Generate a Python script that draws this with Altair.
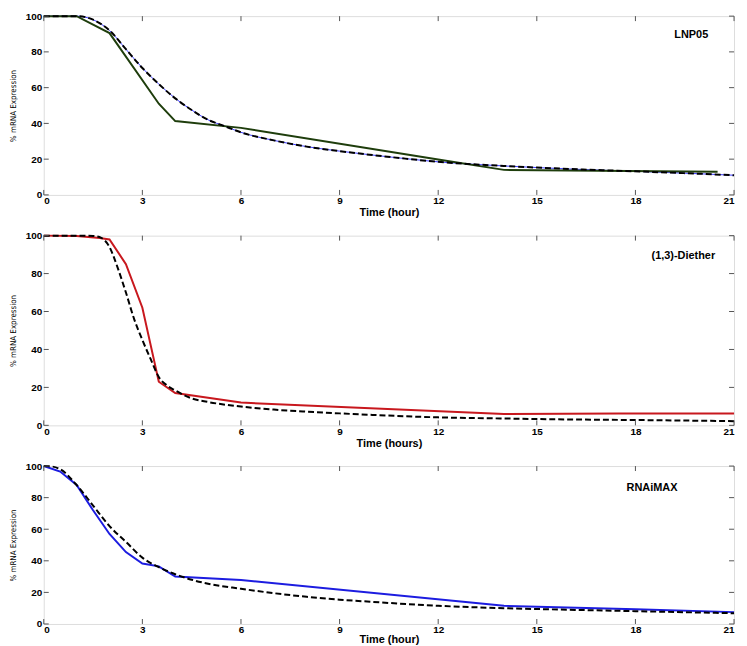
import altair as alt
import pandas as pd

# ---- data ----
x_ticks = [0, 3, 6, 9, 12, 15, 18, 21]
y_ticks = [0, 20, 40, 60, 80, 100]

# LNP05 (measured, green) and model (dashed)
lnp_t = [0, 1, 2, 3.5, 4, 6, 12, 14, 20.5]
lnp_v = [100, 100, 90.5, 51, 41.3, 37.5, 19.8, 14, 13]
lnp_fit_t = [0, 1, 1.5, 2, 2.5, 3, 3.5, 4, 4.5, 5, 5.5, 6, 7, 8, 9, 10, 11, 12, 13, 14, 15, 16, 17, 18, 19, 20, 21]
lnp_fit_v = [100, 100, 98, 92, 81.5, 71, 62, 54, 47.5, 42, 38.5, 35, 30.5, 27, 24.5, 22.3, 20.3, 18.5, 17.2, 16.2, 15.3, 14.5, 13.8, 13.2, 12.5, 11.8, 11]

# (1,3)-Diether (measured, red) and model
die_t = [0, 1, 1.7, 2, 2.5, 3, 3.5, 4, 6, 14, 17.5, 21]
die_v = [100, 99.8, 98.8, 98, 85, 62, 23, 17, 12, 6, 6.2, 6.2]
die_fit_t = [0, 1, 1.5, 1.75, 2, 2.25, 2.5, 2.75, 3, 3.25, 3.5, 3.75, 4, 4.5, 5, 6, 7, 8, 9, 10, 12, 14, 16, 18, 21]
die_fit_v = [100, 100, 99.8, 98.8, 94, 83, 70, 56, 45, 35, 25.5, 21, 18.4, 14.2, 12.3, 9.9, 8.3, 7.2, 6.3, 5.5, 4.2, 3.6, 3.1, 2.8, 2.2]

# RNAiMAX (measured, blue) and model
rna_t = [0, 0.5, 1, 1.5, 2, 2.5, 3, 3.5, 4, 6, 14, 18, 21]
rna_v = [100, 96.5, 88, 72, 57, 45.5, 38.3, 36.5, 30, 27.8, 11.5, 9.3, 7.5]
rna_fit_t = [0, 0.25, 0.5, 1, 1.5, 2, 2.5, 3, 3.5, 4, 4.5, 5, 6, 7, 8, 9, 10, 12, 14, 16, 18, 21]
rna_fit_v = [100, 99.7, 98, 88, 75, 62, 52, 42, 36, 31.5, 28, 25.5, 22.3, 19.5, 17.2, 15.4, 14, 11.5, 10, 9, 8.1, 6.8]

PLOT_W = 695
TICK_LEN = 5
LABEL_FONT = "Liberation Sans"
NARROW_FONT = "DejaVu Sans Condensed, Liberation Sans Narrow, sans-serif"


def panel(meas_t, meas_v, fit_t, fit_v, color, label, xtitle, height, label_x, label_y,
          blue_under=False, title_pad=1):
    meas = pd.DataFrame({"t": meas_t, "v": meas_v})
    fit = pd.DataFrame({"t": fit_t, "v": fit_v})
    xs = alt.Scale(domain=[0, 21], nice=False, zero=False)
    ys = alt.Scale(domain=[0, 100], nice=False)
    xax = alt.Axis(values=x_ticks, ticks=False, domain=False, grid=False, title=xtitle,
                   labelFont=LABEL_FONT, labelFontWeight="bold", labelFontSize=10, labelColor="black",
                   labelPadding=1, titleFont=LABEL_FONT, titleFontWeight="bold", titleFontSize=11,
                   titleColor="black", titlePadding=title_pad, labelOverlap=False)
    yax = alt.Axis(values=y_ticks, ticks=False, domain=False, grid=False, title="% mRNA Expression",
                   labelFont=LABEL_FONT, labelFontWeight="bold", labelFontSize=10, labelColor="black",
                   labelPadding=2, titleFont=NARROW_FONT, titleFontWeight="normal", titleFontSize=8,
                   titleColor="black", titlePadding=8)
    X = alt.X("t:Q", scale=xs, axis=xax)
    Y = alt.Y("v:Q", scale=ys, axis=yax)
    layers = []
    if blue_under:
        layers.append(alt.Chart(fit).mark_line(color="#3b3bff", strokeWidth=1, interpolate="monotone").encode(x=X, y=Y))
    layers.append(alt.Chart(meas).mark_line(color=color, strokeWidth=2).encode(x=X, y=Y))
    layers.append(alt.Chart(fit).mark_line(color="black", strokeWidth=2, strokeDash=[6, 3],
                                           interpolate="monotone").encode(x=X, y=Y))
    xt = pd.DataFrame({"t": x_ticks})
    yt = pd.DataFrame({"v": y_ticks})
    tick_color = "#555555"
    layers.append(alt.Chart(xt).mark_rule(color=tick_color, strokeWidth=1).encode(
        x=X, y=alt.value(0), y2=alt.value(TICK_LEN)))
    layers.append(alt.Chart(xt).mark_rule(color=tick_color, strokeWidth=1).encode(
        x=X, y=alt.value(height - TICK_LEN), y2=alt.value(height)))
    layers.append(alt.Chart(yt).mark_rule(color=tick_color, strokeWidth=1).encode(
        y=Y, x=alt.value(0), x2=alt.value(TICK_LEN)))
    layers.append(alt.Chart(yt).mark_rule(color=tick_color, strokeWidth=1).encode(
        y=Y, x=alt.value(PLOT_W - TICK_LEN), x2=alt.value(PLOT_W)))
    lab = pd.DataFrame({"label": [label]})
    layers.append(alt.Chart(lab).mark_text(align="right", baseline="middle", font=LABEL_FONT,
                                           fontWeight="bold", fontSize=11, color="black").encode(
        text="label:N", x=alt.value(label_x), y=alt.value(label_y)))
    return alt.layer(*layers).properties(width=PLOT_W, height=height)


p1 = panel(lnp_t, lnp_v, lnp_fit_t, lnp_fit_v, "#1e3d0c", "LNP05", "Time (hour)", 180, 669, 19, blue_under=True)
p2 = panel(die_t, die_v, die_fit_t, die_fit_v, "#c8181e", "(1,3)-Diether", "Time (hours)", 191, 676, 21)
p3 = panel(rna_t, rna_v, rna_fit_t, rna_fit_v, "#1c1ce0", "RNAiMAX", "Time (hour)", 159, 638, 22, title_pad=-1)

chart = alt.vconcat(p1, p2, p3, spacing=11).properties(
    padding={"top": 0, "left": 0, "right": 0, "bottom": 0}
).configure_view(stroke="#555555", strokeWidth=1).configure(background="white")

chart.save("out.html", embed_options={"renderer": "svg", "actions": False})
